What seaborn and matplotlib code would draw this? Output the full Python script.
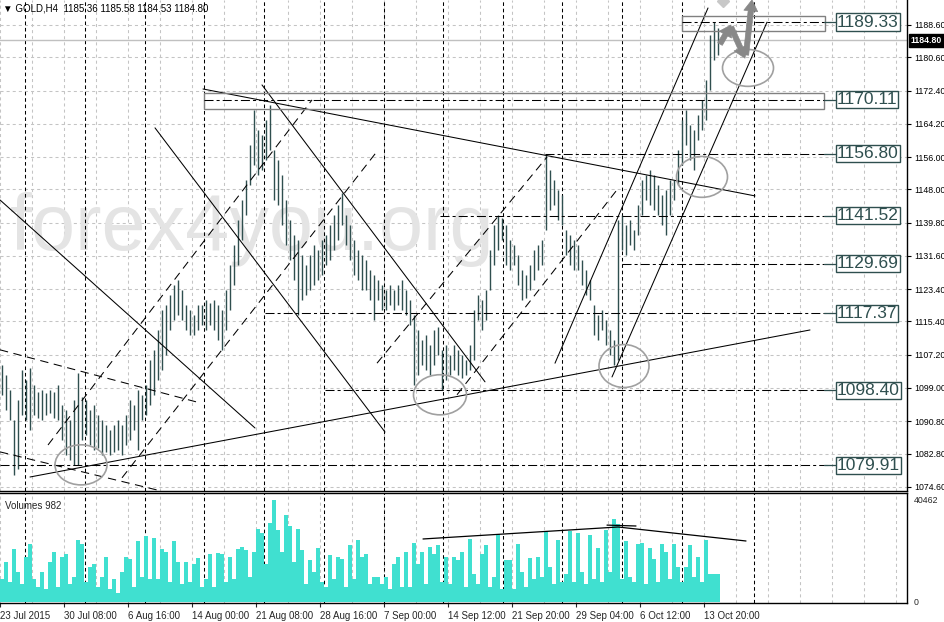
import numpy as np
import pandas as pd
import matplotlib
matplotlib.use("Agg")
import matplotlib.pyplot as plt
import seaborn as sns
from matplotlib.patches import Ellipse, Rectangle, FancyArrowPatch
from matplotlib.transforms import blended_transform_factory

# GOLD H4, each entry = two H4 bars (23 Jul - 15 Oct 2015)
highs = [
    1104.7, 1102.2, 1098.5, 1091.1, 1096.1, 1103.5, 1101.0, 1104.0, 1099.8, 1098.0,
    1098.5, 1097.8, 1098.5, 1098.0, 1099.8, 1094.8, 1093.6, 1091.1, 1096.1, 1102.7,
    1096.8, 1096.1, 1093.6, 1094.8, 1092.4, 1091.1, 1089.9, 1088.7, 1089.9, 1091.1,
    1089.9, 1092.4, 1096.1, 1094.8, 1098.5, 1097.3, 1099.8, 1105.9, 1108.4, 1113.3,
    1118.3, 1119.5, 1122.0, 1124.5, 1125.7, 1123.2, 1119.5, 1118.3, 1117.0, 1119.5,
    1119.5, 1120.7, 1120.0, 1120.7, 1119.5, 1118.3, 1123.2, 1129.4, 1134.3, 1140.5,
    1145.4, 1150.4, 1158.9, 1167.6, 1162.7, 1161.5, 1165.2, 1168.9, 1157.8, 1155.3,
    1151.6, 1145.4, 1140.5, 1136.8, 1135.5, 1131.8, 1129.4, 1131.8, 1134.3, 1133.1,
    1135.5, 1136.8, 1139.2, 1141.7, 1144.2, 1147.1, 1141.7, 1139.2, 1135.5, 1133.1,
    1131.8, 1130.6, 1128.1, 1126.9, 1125.7, 1124.5, 1123.2, 1124.5, 1123.2, 1124.5,
    1125.7, 1123.2, 1120.7, 1117.0, 1113.3, 1110.9, 1112.1, 1109.6, 1113.3, 1114.1,
    1108.4, 1109.6, 1107.2, 1109.6, 1108.4, 1107.2, 1105.9, 1109.6, 1118.3, 1122.0,
    1120.7, 1123.2, 1133.1, 1139.2, 1141.7, 1141.0, 1139.2, 1135.5, 1134.3, 1131.8,
    1128.1, 1126.9, 1129.4, 1133.1, 1134.3, 1135.5, 1156.8, 1152.8, 1150.4, 1147.9,
    1146.7, 1138.0, 1136.8, 1135.5, 1134.3, 1130.6, 1128.1, 1125.7, 1119.5, 1117.0,
    1118.3, 1115.8, 1113.3, 1110.9, 1140.5, 1141.7, 1139.2, 1140.5, 1138.0, 1144.2,
    1150.4, 1151.6, 1152.8, 1151.6, 1149.1, 1146.7, 1147.9, 1150.4, 1150.4, 1157.8,
    1165.2, 1167.6, 1163.9, 1162.7, 1166.4, 1170.1, 1175.0, 1186.1, 1189.3, 1187.9,
]
lows = [
    1097.3, 1093.6, 1091.1, 1077.6, 1079.0, 1092.4, 1091.1, 1088.6, 1092.4, 1091.6,
    1091.1, 1092.4, 1092.9, 1091.6, 1091.1, 1086.2, 1082.5, 1081.3, 1080.0, 1079.9,
    1086.2, 1087.4, 1085.0, 1083.7, 1084.2, 1082.5, 1083.2, 1082.5, 1083.2, 1083.7,
    1082.5, 1085.0, 1086.2, 1088.6, 1083.7, 1091.1, 1092.4, 1094.8, 1097.3, 1101.0,
    1103.5, 1107.2, 1113.3, 1115.8, 1117.0, 1115.8, 1113.3, 1112.1, 1112.1, 1113.3,
    1114.6, 1113.3, 1114.6, 1113.3, 1110.9, 1108.4, 1113.3, 1118.3, 1124.5, 1129.4,
    1135.5, 1141.7, 1149.1, 1154.1, 1151.6, 1152.8, 1155.3, 1157.8, 1145.4, 1144.2,
    1139.2, 1134.3, 1130.6, 1125.7, 1117.0, 1120.7, 1121.9, 1123.2, 1124.5, 1125.7,
    1126.9, 1129.4, 1130.6, 1133.1, 1135.5, 1139.2, 1134.3, 1130.6, 1126.9, 1125.7,
    1123.2, 1123.2, 1120.7, 1115.8, 1120.7, 1118.3, 1118.3, 1119.5, 1118.3, 1119.5,
    1118.3, 1117.0, 1114.6, 1099.8, 1102.2, 1104.7, 1103.5, 1102.2, 1104.7, 1107.2,
    1098.4, 1101.0, 1102.2, 1103.5, 1102.2, 1101.5, 1102.2, 1103.5, 1105.9, 1115.8,
    1113.3, 1115.8, 1123.2, 1129.4, 1133.1, 1135.5, 1129.4, 1128.1, 1129.4, 1124.5,
    1120.7, 1121.2, 1123.2, 1125.7, 1128.1, 1129.4, 1138.0, 1143.0, 1144.2, 1140.5,
    1139.2, 1131.8, 1129.4, 1128.1, 1128.1, 1124.5, 1122.0, 1120.7, 1112.1, 1110.9,
    1113.3, 1109.6, 1107.2, 1104.7, 1106.0, 1133.1, 1131.8, 1134.3, 1133.1, 1136.8,
    1141.7, 1145.4, 1144.2, 1143.0, 1141.7, 1139.2, 1136.8, 1141.7, 1145.4, 1149.1,
    1154.1, 1159.0, 1155.3, 1152.8, 1160.2, 1162.7, 1165.2, 1172.6, 1180.0, 1181.2,
]
volumes = [
    9000, 16000, 8000, 21000, 12000, 7000, 18000, 23000, 9000, 6000,
    12000, 5000, 16000, 20000, 6000, 18000, 19000, 7000, 10000, 24500,
    23000, 8000, 14000, 15000, 6000, 10000, 18000, 5000, 9000, 3500,
    12000, 18000, 17000, 6000, 24000, 10000, 26000, 9000, 25500, 9000,
    21000, 20000, 8000, 24000, 16000, 7000, 16000, 8000, 15000, 17500,
    6000, 9000, 19000, 6000, 19500, 19000, 8000, 18000, 9000, 21000,
    22000, 20500, 10000, 20000, 29000, 27500, 15000, 31500, 40462, 28500,
    20000, 34500, 30000, 16000, 29000, 20500, 7000, 16500, 12000, 21500,
    8000, 6000, 18500, 9000, 18000, 17000, 6000, 22500, 9000, 24500,
    18000, 19000, 7000, 10000, 10000, 7000, 10000, 5000, 15000, 18000,
    6000, 20000, 6000, 23500, 15000, 20000, 7000, 22000, 19000, 22500,
    8000, 18000, 7000, 18000, 16500, 20000, 6000, 25000, 11000, 7000,
    19000, 22500, 6000, 10000, 27000, 5000, 16500, 16500, 5000, 23000,
    12000, 6000, 17500, 9000, 18000, 10000, 28000, 14000, 7000, 24500,
    8000, 11000, 28000, 8000, 27500, 12000, 7000, 26500, 9000, 21500,
    8000, 28500, 12000, 33000, 31000, 9000, 24000, 10000, 8000, 23000,
    23500, 7000, 21500, 17000, 8000, 23000, 20000, 9000, 23000, 14000,
    8000, 14000, 22500, 10000, 18000, 8000, 24500, 11000, 11000, 11000,
]

date_labels = ["23 Jul 2015", "30 Jul 08:00", "6 Aug 16:00", "14 Aug 00:00",
               "21 Aug 08:00", "28 Aug 16:00", "7 Sep 00:00", "14 Sep 12:00",
               "21 Sep 20:00", "29 Sep 04:00", "6 Oct 12:00", "13 Oct 20:00"]
week_starts = [5.75, 20.75, 35.75, 50.5, 65.5, 80.5, 95.5, 110.25, 125.25,
               140.0, 155.0, 170.0, 188.0]
price_ticks = [1074.6, 1082.8, 1090.8, 1099.0, 1107.2, 1115.4, 1123.4, 1131.6,
               1139.8, 1148.0, 1156.0, 1164.2, 1172.4, 1180.6, 1188.6]
last_price = 1184.80
header = "\u25bc GOLD,H4  1185.36 1185.58 1184.53 1184.80"

# horizontal levels: value and bar where the line starts
levels = [1189.33, 1170.11, 1156.80, 1141.52, 1129.69, 1117.37, 1098.40, 1079.91]
level_from = [170.0, 50.5, 135.75, 109.5, 155.0, 65.75, 80.75, -0.5]
level_zones = [(170.0, 205.75, 1187.1, 1190.8), (50.5, 205.5, 1167.9, 1171.8)]

# analyst trend lines (bar, price, bar, price)
solid_lines = [
    (-0.5, 1145.4, 63.25, 1089.1),
    (38.25, 1163.2, 95.75, 1088.1),
    (65.0, 1173.8, 120.75, 1100.5),
    (50.25, 1172.8, 188.25, 1146.4),
    (7.0, 1077.0, 202.0, 1113.3),
    (138.25, 1105.1, 176.5, 1192.8),
    (152.5, 1101.7, 191.25, 1189.3),
]
dashed_lines = [
    (11.5, 1084.9, 77.5, 1170.1),
    (30.0, 1076.8, 94.0, 1157.7),
    (93.75, 1105.1, 136.25, 1156.0),
    (113.75, 1097.3, 153.75, 1147.9),
    (-0.5, 1108.4, 48.75, 1095.5),
    (-0.5, 1083.2, 38.75, 1073.8),
]
circles = [(19.75, 1080.0, 13.0, 9.9), (109.5, 1097.3, 13.25, 9.9),
           (155.5, 1104.4, 12.5, 10.6), (175.0, 1151.1, 12.75, 10.1),
           (186.5, 1178.0, 12.75, 9.1)]
# forecast arrows (bar, price) -> (bar, price)
forecast = [((179.5, 1183.9), (182.25, 1188.6)),
            ((182.25, 1188.1), (185.75, 1180.4)),
            ((186.0, 1181.2), (187.5, 1194.8))]
vol_trend = ([105.25, 154.0, 186.0], [25000, 29750, 24200])

sns.set_style("white")
plt.rcParams["font.family"] = ["Liberation Sans", "DejaVu Sans"]
plt.rcParams["lines.scale_dashes"] = False

n = len(highs)
bars = np.arange(n)
df = pd.DataFrame({"bar": bars, "high": highs, "low": lows, "volume": volumes})

fig = plt.figure(figsize=(9.45, 6.22), dpi=100)
ax = fig.add_axes([0, 0.20981, 907 / 945, 0.79019])
axv = fig.add_axes([0, 0.030547, 907 / 945, 0.17605], sharex=ax)

xmax = 226.25
grid_x = np.arange(-0.5, xmax, 8)
GRID = dict(color="#c4c4c4", lw=0.75, ls=(0, (2.2, 2.2)), zorder=0.2)
SEP = dict(color="black", lw=0.75, ls=(0, (2.6, 2.0)), zorder=0.3)

for a in (ax, axv):
    for gx in grid_x:
        a.axvline(gx, **GRID)
    for w in week_starts:
        a.axvline(w, **SEP)
for p in price_ticks:
    ax.axhline(p, **GRID)

ax.text(2.0, 1133.05, "forex4you.org", fontsize=57, color="#e4e4e4",
        va="baseline", ha="left", zorder=0.25)

ax.axhline(last_price, color="#c0c0c0", lw=1.0, zorder=0.4)

# price bars
ax.vlines(df["bar"], df["low"], df["high"], color="#2F4F4F", lw=1.0, zorder=2)

for x0, y0, x1, y1 in solid_lines:
    ax.plot([x0, x1], [y0, y1], color="black", lw=0.75, zorder=3)
for x0, y0, x1, y1 in dashed_lines:
    ax.plot([x0, x1], [y0, y1], color="black", lw=0.75, ls=(0, (6.0, 4.0)), zorder=3)

for x0, x1, y0, y1 in level_zones:
    ax.add_patch(Rectangle((x0, y0), x1 - x0, y1 - y0, fill=False,
                           ec="#808080", lw=1.0, zorder=3))

for lv, start in zip(levels, level_from):
    ax.plot([start, 207.0], [lv, lv], color="black", lw=0.75,
            ls=(0, (6.5, 2.2, 2.2, 2.2)), zorder=3)
    ax.plot([205.5, 208.5], [lv, lv], color="#2F4F4F", lw=0.9, zorder=3)
    ax.text(208.7, lv, f"{lv:.2f}", fontsize=12.5, color="#2F4F4F",
            ha="left", va="center", zorder=5,
            bbox=dict(boxstyle="square,pad=0.06", fc="white", ec="#2F4F4F", lw=1.0))

for cx, cy, w, h in circles:
    ax.add_patch(Ellipse((cx, cy), w, h, fill=False, ec="#a0a0a0", lw=1.2, zorder=4))

for start, end in forecast:
    ax.add_patch(FancyArrowPatch(start, end, shrinkA=0, shrinkB=0,
                                 arrowstyle="simple,head_length=0.8,head_width=1.0,tail_width=0.38",
                                 mutation_scale=10, fc="#888888", ec="#888888",
                                 lw=0.5, zorder=4))
ax.plot([180.2], [1194.4], marker="D", ms=6, color="#c8c8c8", zorder=4)

ax.set_xlim(-0.5, xmax)
ax.set_ylim(1073.42, 1194.77)
ax.yaxis.tick_right()
ax.set_yticks(price_ticks)
ax.set_yticklabels([f"{p:.2f}" for p in price_ticks])
ax.tick_params(axis="y", labelsize=6.3, length=3, width=0.8, pad=2, colors="black")
ax.tick_params(axis="x", bottom=False, labelbottom=False)
for s in ("top", "left"):
    ax.spines[s].set_visible(False)
for s in ("right", "bottom"):
    ax.spines[s].set_color("black")
    ax.spines[s].set_linewidth(1.0)

trans = blended_transform_factory(ax.transAxes, ax.transData)
ax.text(1.004, last_price, f"{last_price:.2f}", transform=trans, fontsize=6.3,
        color="white", fontweight="bold", ha="left", va="center", zorder=6,
        bbox=dict(boxstyle="square,pad=0.2", fc="black", ec="black"), clip_on=False)
ax.text(0.003, 0.993, header, transform=ax.transAxes, fontsize=7, color="black",
        ha="left", va="top")

# volumes
sns.barplot(data=df, x="bar", y="volume", native_scale=True, width=1.0,
            color="#40E0D0", saturation=1, edgecolor="none", errorbar=None,
            ax=axv, zorder=2)
axv.plot(vol_trend[0], vol_trend[1], color="black", lw=0.9, zorder=3)
axv.plot([151.25, 158.5], [30500, 30150], color="black", lw=0.9, zorder=3)
axv.text(0.005, 0.93, "Volumes 982", transform=axv.transAxes, fontsize=7,
         ha="left", va="top")
axv.set_xlim(-0.5, xmax)
axv.set_ylim(-397, 43040)
axv.set_xlabel("")
axv.set_ylabel("")
axv.yaxis.tick_right()
axv.set_yticks([0, 40462])
axv.set_yticklabels(["0", "40462"])
axv.tick_params(axis="y", labelsize=6.3, length=0, pad=5)
tick_pos = [16 * k - 0.5 for k in range(len(date_labels))]
axv.set_xticks(tick_pos)
axv.set_xticklabels(date_labels)
axv.tick_params(axis="x", labelsize=7, length=3, width=0.8, pad=3, direction="out", bottom=True)
for lbl in axv.get_xticklabels():
    lbl.set_ha("left")
axv.spines["left"].set_visible(False)
for s in ("top", "right", "bottom"):
    axv.spines[s].set_color("black")
    axv.spines[s].set_linewidth(1.0)

fig.savefig("out.png", dpi=100)
